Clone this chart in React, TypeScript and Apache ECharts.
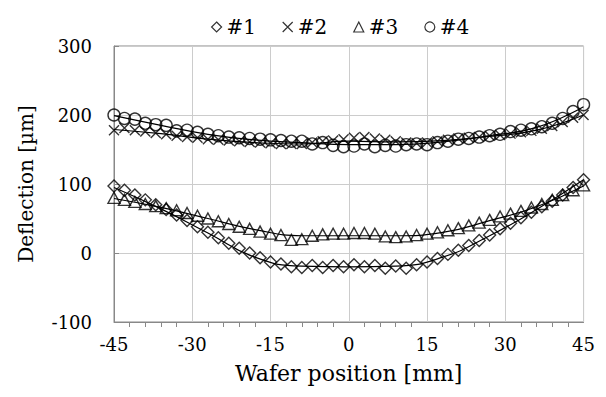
import React, { useEffect, useRef } from "react";
import * as echarts from "echarts";

// wafer positions (mm), every 2 mm
const positions = [-45,-43,-41,-39,-37,-35,-33,-31,-29,-27,-25,-23,-21,-19,-17,-15,-13,-11,-9,-7,-5,-3,-1,1,3,5,7,9,11,13,15,17,19,21,23,25,27,29,31,33,35,37,39,41,43,45];
const s1 = [97,91,84,77,70,63,55,47,38,30,22,14,7,0,-7,-13,-16,-20,-21,-18,-21,-18,-20,-17,-20,-18,-22,-19,-22,-17,-13,-8,-2,4,11,18,26,35,43,51,59,67,75,84,95,106];
const s2 = [178,181,178,176,174,172,170,168,167,165,164,163,162,161,160,159,158,158,158,160,162,163,165,167,168,166,164,162,160,159,160,162,164,166,167,168,170,171,173,175,177,180,184,190,196,200];
const s3 = [80,77,74,71,68,65,62,58,54,50,46,42,38,35,31,28,26,19,20,25,27,28,28,29,29,28,24,23,24,26,28,30,33,36,40,44,48,53,57,61,66,71,77,84,91,98];
const s4 = [200,195,194,188,186,185,177,178,175,172,170,168,167,166,165,164,163,162,162,158,160,156,154,155,158,154,156,155,157,158,157,160,162,165,166,168,170,172,176,178,180,183,188,195,205,215];

// hand-read trend lines drawn through each series
const trendX = [-45,-36,-27,-18,-9,0,9,18,27,36,45];
const t1 = [95,64,29,-6,-19,-20,-19,-6,25,63,106];
const t2 = [179,173,165,160,158,162,161,163,169,178,200];
const t3 = [79,66,50,34,25,25,25,30,47,67,97];
const t4 = [199,185,172,164,160,157,157,161,170,182,212];

const seriesNames = ["#1", "#2", "#3", "#4"];
const xTicks = [-45, -30, -15, 0, 15, 30, 45];
const yTicks = [-100, 0, 100, 200, 300];

const FONT = "DejaVu Serif";

export default function App() {
  const ref = useRef<HTMLDivElement>(null);
  useEffect(() => {
    if (!ref.current) return;
    const chart = echarts.init(ref.current, null, { renderer: "svg" });
    const symbols = [
      "diamond",
      "path://M0,0L10,10M10,0L0,10",
      "triangle",
      "circle",
    ];
    const sizes = [12, 10, [12, 11], 12];
    const data = [s1, s2, s3, s4];
    const trends = [t1, t2, t3, t4];
    const markerStyle = { color: "transparent", borderColor: "#000", borderWidth: 1.4 };
    chart.setOption({
      animation: false,
      backgroundColor: "#fff",
      textStyle: { fontFamily: FONT },
      legend: {
        top: 4,
        left: 198,
        itemWidth: 10,
        itemHeight: 10,
        itemGap: 26,
        textStyle: { fontFamily: FONT, fontSize: 20, color: "#000" },
        data: seriesNames.map((n, i) => ({
          name: n,
          icon: symbols[i],
          itemStyle: { color: "transparent", borderColor: "#000", borderWidth: 1.2 },
        })),
      },
      grid: {
        left: 102,
        right: 13,
        top: 38,
        bottom: 62,
        show: true,
        borderColor: "#888",
        borderWidth: 1,
      },
      xAxis: {
        type: "value",
        min: -45,
        max: 45,
        interval: 15,
        name: "Wafer position [mm]",
        nameLocation: "middle",
        nameGap: 40,
        nameTextStyle: { fontFamily: FONT, fontSize: 22, color: "#000" },
        axisLine: { show: true, onZero: false, lineStyle: { color: "#888" } },
        axisTick: { show: false },
        minorTick: { show: true, splitNumber: 5, length: 5, lineStyle: { color: "#888" } },
        minorSplitLine: { show: false },
        axisLabel: {
          fontFamily: FONT,
          fontSize: 18,
          color: "#000",
          margin: 13,
          formatter: (v: number) => (xTicks.includes(v) ? String(v) : ""),
        },
        splitLine: { show: true, lineStyle: { color: "#ccc" } },
      },
      yAxis: {
        type: "value",
        min: -100,
        max: 300,
        interval: 100,
        name: "Deflection [µm]",
        nameLocation: "middle",
        nameGap: 78,
        nameTextStyle: { fontFamily: FONT, fontSize: 20, color: "#000" },
        axisLine: { show: true, onZero: false, lineStyle: { color: "#888" } },
        axisTick: { show: true, inside: true, length: 5, lineStyle: { color: "#888" } },
        axisLabel: {
          fontFamily: FONT,
          fontSize: 18,
          color: "#000",
          margin: 22,
          formatter: (v: number) => (yTicks.includes(v) ? String(v) : ""),
        },
        splitLine: { show: true, lineStyle: { color: "#ccc" } },
      },
      series: [
        ...trends.map((arr, i) => ({
          name: "trend" + seriesNames[i],
          type: "line",
          data: trendX.map((x, j) => [x, arr[j]]),
          showSymbol: false,
          symbol: "none",
          smooth: 0.5,
          lineStyle: { color: "#000", width: 1.2 },
          emphasis: { disabled: true },
          silent: true,
        })),
        ...data.map((arr, i) => ({
          name: seriesNames[i],
          type: "scatter",
          data: positions.map((x, j) => [x, arr[j]]),
          symbol: symbols[i],
          symbolSize: sizes[i],
          itemStyle: markerStyle,
          emphasis: { disabled: true },
        })),
      ],
    });
    return () => chart.dispose();
  }, []);
  return <div ref={ref} style={{ width: 590, height: 381 }} />;
}
